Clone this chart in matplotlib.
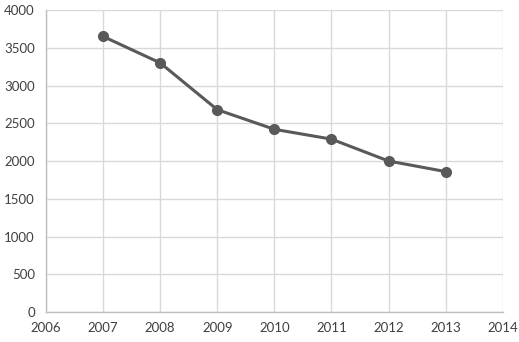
import matplotlib
matplotlib.use("Agg")
import matplotlib.pyplot as plt

years = [2007, 2008, 2009, 2010, 2011, 2012, 2013]
values = [3650, 3300, 2680, 2420, 2290, 2000, 1860]
x_ticks = list(range(2006, 2015))
y_ticks = list(range(0, 4001, 500))

plt.rcParams["font.family"] = ["Lato", "DejaVu Sans"]

fig = plt.figure(figsize=(5.19, 3.42), dpi=100)
ax = fig.add_axes([0.0886, 0.0877, 0.880, 0.883])

ax.plot(years, values, color="#595959", linewidth=2.2, marker="o",
        markersize=7, markerfacecolor="#595959", markeredgecolor="#595959",
        zorder=3, clip_on=False)

ax.set_xlim(2006, 2014)
ax.set_ylim(0, 4000)
ax.set_xticks(x_ticks)
ax.set_yticks(y_ticks)
ax.tick_params(axis="both", length=0, labelsize=9.5, colors="#404040")
ax.tick_params(axis="x", pad=7)
ax.tick_params(axis="y", pad=8)

ax.grid(True, color="#d9d9d9", linewidth=1)
ax.set_axisbelow(True)
for side in ["top", "right"]:
    ax.spines[side].set_visible(False)
for side in ["left", "bottom"]:
    ax.spines[side].set_color("#bfbfbf")
    ax.spines[side].set_linewidth(1)

fig.savefig("out.png", dpi=100, facecolor="white")
